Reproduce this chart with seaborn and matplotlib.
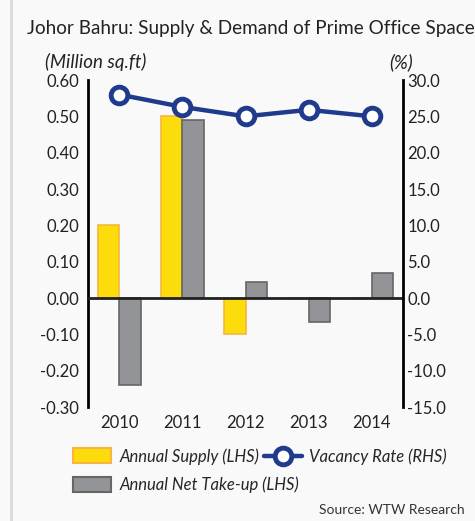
import pandas as pd
import matplotlib
matplotlib.use('Agg')
import matplotlib.pyplot as plt
import seaborn as sns
from matplotlib.patches import Patch
from matplotlib.lines import Line2D

# ── Data ──────────────────────────────────────────────────────────────────────

years = ['2010', '2011', '2012', '2013', '2014']
annual_supply = [0.20, 0.50, -0.10, 0.0, 0.0]          # million sq.ft (LHS)
net_take_up = [-0.24, 0.49, 0.045, -0.065, 0.068]      # million sq.ft (LHS)
vacancy_rate = [28.0, 26.3, 25.0, 25.9, 25.0]           # % (RHS)

left_ticks = [0.60, 0.50, 0.40, 0.30, 0.20, 0.10, 0.00, -0.10, -0.20, -0.30]
right_ticks = [30.0, 25.0, 20.0, 15.0, 10.0, 5.0, 0.0, -5.0, -10.0, -15.0]

bars = pd.DataFrame({
    'Year': years * 2,
    'Value': annual_supply + net_take_up,
    'Series': ['Annual Supply (LHS)'] * 5 + ['Annual Net Take-up (LHS)'] * 5,
})

# ── Style ─────────────────────────────────────────────────────────────────────

sns.set_style('white')
plt.rcParams['font.family'] = ['Lato', 'DejaVu Sans']

bg = '#f9f9f9'
yellow = '#fcdc0a'
yellow_edge = '#f7b540'
grey = '#939497'
grey_edge = '#666666'
navy = '#203a8c'
ink = '#222222'

fig = plt.figure(figsize=(4.75, 5.21), dpi=100, facecolor=bg)
ax = fig.add_axes([0.1846, 0.2188, 0.6645, 0.6276], facecolor=bg)

sns.barplot(data=bars, x='Year', y='Value', hue='Series',
            palette=[yellow, grey], width=0.68, ax=ax, legend=False,
            saturation=1)
for cont, ec in zip(ax.containers, [yellow_edge, grey_edge]):
    for p in cont:
        p.set_edgecolor(ec)
        p.set_linewidth(1.2)

ax.set_ylim(-0.30, 0.60)
ax.set_yticks(left_ticks)
ax.set_yticklabels([f'{t:.2f}' for t in left_ticks])
ax.set_xlim(-0.5, 4.5)
ax.axhline(0, color=ink, lw=2, zorder=5)
ax.set_xlabel('')
ax.set_ylabel('')
ax.tick_params(axis='y', length=0, pad=6, labelsize=12, colors=ink)
ax.tick_params(axis='x', length=0, pad=6, labelsize=12, colors=ink)
for s in ['top', 'bottom', 'right']:
    ax.spines[s].set_visible(False)
ax.spines['left'].set_color('black')
ax.spines['left'].set_linewidth(2)

ax2 = ax.twinx()
sns.pointplot(x=years, y=vacancy_rate, ax=ax2, color=navy, errorbar=None,
              markers='o', linestyles='-', markersize=12, linewidth=3.2,
              markerfacecolor='white', markeredgecolor=navy,
              markeredgewidth=3.5)
ax2.set_ylim(-15, 30)
ax2.set_yticks(right_ticks)
ax2.set_yticklabels([f'{t:.1f}' for t in right_ticks])
ax2.set_xlim(-0.5, 4.5)
ax2.set_ylabel('')
ax2.tick_params(axis='y', length=0, pad=3, labelsize=12, colors=ink)
for s in ['top', 'bottom', 'left']:
    ax2.spines[s].set_visible(False)
ax2.spines['right'].set_color('black')
ax2.spines['right'].set_linewidth(2)

# ── Texts ─────────────────────────────────────────────────────────────────────

fig.text(27 / 475, 1 - 34 / 521, 'Johor Bahru: Supply & Demand of Prime Office Space',
         fontsize=13.6, color=ink, va='baseline')
fig.text(45 / 475, 1 - 62 / 521, '(Million sq.ft)', fontsize=13.5,
         style='italic', color=ink, va='center')
fig.text(389 / 475, 1 - 62 / 521, '(%)', fontsize=13.5,
         style='italic', color=ink, va='center')
fig.text(465 / 475, 1 - 510 / 521, 'Source: WTW Research', fontsize=10,
         color='#333333', ha='right', va='center')

fig.add_artist(Line2D([11 / 475, 11 / 475], [0, 1], color='#d9d9d9', lw=2))

# ── Legend ────────────────────────────────────────────────────────────────────

bar_handles = [
    Patch(facecolor=yellow, edgecolor=yellow_edge, lw=1.5),
    Patch(facecolor=grey, edgecolor=grey_edge, lw=1.5),
]
fig.legend(bar_handles, ['Annual Supply (LHS)', 'Annual Net Take-up (LHS)'],
           loc='upper left', bbox_to_anchor=(58 / 475, 1 - 433 / 521),
           frameon=False, handlelength=2.3, handleheight=1.0,
           handletextpad=0.5, labelspacing=0.7,
           prop={'size': 12, 'style': 'italic'})
line_handle = Line2D([], [], color=navy, lw=3.2, marker='o', markersize=12,
                     markerfacecolor='white', markeredgecolor=navy,
                     markeredgewidth=3.5)
fig.legend([line_handle], ['Vacancy Rate (RHS)'],
           loc='upper left', bbox_to_anchor=(249 / 475, 1 - 433 / 521),
           frameon=False, handlelength=2.3, handletextpad=0.4,
           prop={'size': 12, 'style': 'italic'})

plt.savefig('out.png', dpi=100, facecolor=bg)
